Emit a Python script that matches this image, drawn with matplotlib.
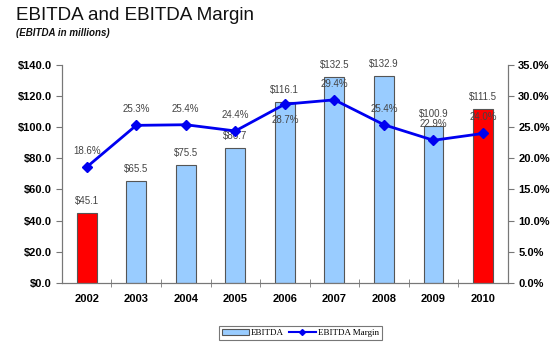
import numpy as np
import matplotlib.pyplot as plt
from matplotlib.patches import Patch
from matplotlib.lines import Line2D

years = ['2002', '2003', '2004', '2005', '2006', '2007', '2008', '2009', '2010']
ebitda = [45.1, 65.5, 75.5, 86.7, 116.1, 132.5, 132.9, 100.9, 111.5]
margin = [18.6, 25.3, 25.4, 24.4, 28.7, 29.4, 25.4, 22.9, 24.0]
ebitda_labels = ['$45.1', '$65.5', '$75.5', '$86.7', '$116.1', '$132.5', '$132.9', '$100.9', '$111.5']
margin_labels = ['18.6%', '25.3%', '25.4%', '24.4%', '28.7%', '29.4%', '25.4%', '22.9%', '24.0%']
highlight = ['2002', '2010']

plt.rcParams['font.family'] = ['Liberation Sans', 'DejaVu Sans']

fig = plt.figure(figsize=(5.58, 3.42), dpi=100)
ax = fig.add_axes([0.111, 0.173, 0.799, 0.637])
ax2 = ax.twinx()

x = np.arange(len(years))
colors = ['#ff0000' if y in highlight else '#99ccff' for y in years]
ax.bar(x, ebitda, width=0.4, color=colors, edgecolor='#555555', linewidth=0.8, zorder=2)
for xi, v, lab in zip(x, ebitda, ebitda_labels):
    ax.annotate(lab, (xi, v), xytext=(0, 5), textcoords='offset points',
                ha='center', va='bottom', fontsize=7, color='#444444')

ax.set_xlim(-0.5, len(years) - 0.5)
ax.set_ylim(0, 140)
ax.set_yticks(np.arange(0, 141, 20))
ax.set_yticklabels(['$%.1f' % t for t in np.arange(0, 141, 20)], fontweight='bold', fontsize=8)
ax.set_xticks(x)
ax.set_xticklabels(years, fontweight='bold', fontsize=8)
ax.set_xticks(np.arange(0.5, len(years) - 1, 1), minor=True)
ax.tick_params(axis='x', which='major', length=0, pad=8)
ax.tick_params(axis='x', which='minor', length=6, direction='inout', color='#777777')
ax.tick_params(axis='y', length=4, color='#777777')

ax2.plot(x, margin, color='#0000f0', marker='D', markersize=5.5, linewidth=2, zorder=3)
for xi, v, lab, yr in zip(x, margin, margin_labels, years):
    off = -8 if yr == '2006' else 8
    ax2.annotate(lab, (xi, v), xytext=(0, off), textcoords='offset points',
                 ha='center', va='bottom' if off > 0 else 'top', fontsize=7, color='#444444')
ax2.set_ylim(0, 35)
ax2.set_yticks(np.arange(0, 36, 5))
ax2.set_yticklabels(['%.1f%%' % t for t in np.arange(0, 36, 5)], fontweight='bold', fontsize=8)
ax2.tick_params(axis='y', length=4, color='#777777')

for a in (ax, ax2):
    a.spines['top'].set_visible(False)
    for s in ('left', 'right', 'bottom'):
        a.spines[s].set_color('#777777')

fig.text(0.029, 0.955, 'EBITDA and EBITDA Margin', fontsize=13.6, va='center', ha='left', color='#111111')
fig.text(0.029, 0.903, '(EBITDA in millions)', fontsize=7, fontweight='bold', style='italic',
         va='center', ha='left', color='#111111')

handles = [Patch(facecolor='#99ccff', edgecolor='#555555', linewidth=0.8),
           Line2D([0], [0], color='#0000f0', marker='D', markersize=3, linewidth=1.5)]
leg = fig.legend(handles, ['EBITDA', 'EBITDA Margin'], loc='center', bbox_to_anchor=(0.538, 0.027),
                 ncol=2, frameon=True, fancybox=False, edgecolor='#555555',
                 prop={'family': 'Liberation Serif', 'size': 6.5}, handlelength=3,
                 columnspacing=0.6, handletextpad=0.2, borderpad=0.3, borderaxespad=0.2)
leg.get_frame().set_linewidth(0.8)

fig.savefig('out.png', dpi=100)
